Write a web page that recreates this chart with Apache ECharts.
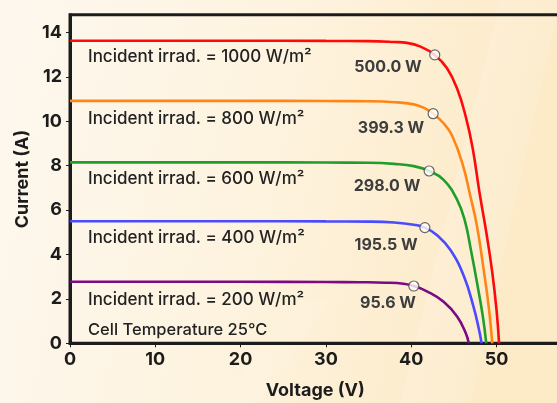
<!DOCTYPE html>
<html>
<head>
<meta charset="utf-8">
<script src="https://cdn.jsdelivr.net/npm/echarts@6/dist/echarts.min.js"></script>
<style>
html,body{margin:0;padding:0;background:#fdf6e8;}
#c{width:557px;height:403px;}
</style>
</head>
<body>
<div id="c"></div>
<script>
// ---- Data ----
const xTicks = [0, 10, 20, 30, 40, 50];
const yTicks = [0, 2, 4, 6, 8, 10, 12, 14];
const seriesNames = ['1000 W/m²', '800 W/m²', '600 W/m²', '400 W/m²', '200 W/m²'];
const curve1000 = [[0,13.63],[10,13.63],[20,13.63],[30,13.62],[35,13.61],[38,13.57],[39.5,13.53],[41.1,13.36],[42.76,12.99],[44.2,12.39],[45.4,11.45],[46.4,10.2],[47.2,8.8],[48.0,6.8],[48.8,5.0],[49.5,3.2],[50.0,1.5],[50.3,0]];
const curve800 = [[0,10.92],[10,10.92],[20,10.92],[30,10.91],[35,10.9],[38,10.86],[40.3,10.76],[41.5,10.6],[42.57,10.34],[43.8,9.91],[44.8,9.35],[46.0,8.1],[46.95,6.6],[47.7,5.3],[48.5,3.3],[49.1,1.6],[49.5,0]];
const curve600 = [[0,8.15],[10,8.15],[20,8.15],[30,8.14],[35,8.13],[38,8.08],[40.3,7.98],[42.1,7.76],[43.8,7.36],[45.4,6.45],[46.3,5.5],[47.0,4.2],[47.8,2.55],[48.4,1.2],[48.8,0]];
const curve400 = [[0,5.5],[10,5.5],[20,5.5],[30,5.49],[35,5.48],[38,5.44],[40.3,5.34],[41.6,5.21],[43.0,4.88],[44.6,4.2],[46.2,3.0],[47.3,1.65],[47.9,0.7],[48.25,0]];
const curve200 = [[0,2.77],[10,2.77],[20,2.77],[30,2.76],[34,2.75],[37,2.73],[39.1,2.68],[40.3,2.58],[41.9,2.33],[43.8,1.87],[45.4,1.2],[46.4,0.45],[46.75,0]];
const mppPoints = [[42.76,12.99],[42.57,10.34],[42.1,7.76],[41.6,5.21],[40.3,2.58]];
const irradLabels = ['Incident irrad. = 1000 W/m²','Incident irrad. = 800 W/m²','Incident irrad. = 600 W/m²','Incident irrad. = 400 W/m²','Incident irrad. = 200 W/m²'];
const powerLabels = ['500.0 W','399.3 W','298.0 W','195.5 W','95.6 W'];
const tempLabel = 'Cell Temperature 25°C';

// ---- Styling ----
const curves = [curve1000, curve800, curve600, curve400, curve200];
const colors = ['#ff0a0a', '#ff8514', '#1f9e2c', '#4a4aff', '#7a0a86'];
const FONT = 'Inter, "Noto Sans", sans-serif';
const INK = '#1c1c1c';

const chart = echarts.init(document.getElementById('c'), null, {renderer: 'canvas'});

const series = curves.map((d, i) => ({
  name: seriesNames[i],
  type: 'line',
  data: d,
  smooth: 0.45,
  showSymbol: false,
  lineStyle: {color: colors[i], width: 2.6},
  z: 3
}));
series.push({
  type: 'scatter',
  data: mppPoints,
  symbol: 'circle',
  symbolSize: 10,
  itemStyle: {color: '#ffffff', borderColor: '#444', borderWidth: 1.2},
  z: 5
});

const irradY = [57, 119, 179, 238, 300];
const powerPos = [[388,67],[391,128],[387,186],[386,245],[388,303]];
const graphics = [
  {type:'rect', z:-10, silent:true, shape:{x:0,y:0,width:557,height:403},
   style:{fill:new echarts.graphic.LinearGradient(0,0,1,0.3,[
     {offset:0,color:'#fdf8ef'},{offset:0.5,color:'#fdf3df'},{offset:1,color:'#fdeac6'}])}},
  {type:'polygon', z:-9, silent:true, shape:{points:[[500,0],[560,0],[470,403],[400,403]]},
   style:{fill:'rgba(255,255,255,0.14)'}},
  {type:'polygon', z:-9, silent:true, shape:{points:[[300,300],[330,300],[260,403],[220,403]]},
   style:{fill:'rgba(255,255,255,0.1)'}}
];
irradLabels.forEach((t, i) => graphics.push({
  type:'text', x: 88, y: irradY[i], z: 10,
  style:{text:t, font:'500 17px ' + FONT, fill:'#222', verticalAlign:'middle'}
}));
graphics.push({type:'text', x: 88, y: 330, z:10,
  style:{text:tempLabel, font:'500 16.5px ' + FONT, fill:'#222', verticalAlign:'middle'}});
powerLabels.forEach((t, i) => graphics.push({
  type:'text', x: powerPos[i][0], y: powerPos[i][1], z: 10,
  style:{text:t, font:'700 16px ' + FONT, fill:'#3d3d3d', align:'center', verticalAlign:'middle'}
}));

chart.setOption({
  animation: false,
  backgroundColor: 'transparent',
  grid: {left: 70, top: 14.7, width: 490.5, height: 328.6, show: true,
         containLabel: false, outerBoundsMode: 'none',
         borderColor: INK, borderWidth: 3, backgroundColor: 'transparent'},
  xAxis: {
    type: 'value', min: 0, max: 57.5, interval: 10,
    name: 'Voltage (V)', nameLocation: 'middle', nameGap: 38,
    nameTextStyle: {fontFamily: FONT, fontWeight: 700, fontSize: 18, color: INK},
    axisLine: {show: true, lineStyle: {color: INK, width: 3}},
    axisTick: {show: true, length: 4, lineStyle: {color: INK, width: 1}, customValues: xTicks},
    axisLabel: {fontFamily: FONT, fontWeight: 700, fontSize: 18, color: INK, margin: 7,
                customValues: xTicks},
    splitLine: {show: false}
  },
  yAxis: {
    type: 'value', min: 0, max: 14.8, interval: 2,
    name: 'Current (A)', nameLocation: 'middle', nameGap: 34,
    nameTextStyle: {fontFamily: FONT, fontWeight: 700, fontSize: 18, color: INK},
    axisLine: {show: true, lineStyle: {color: INK, width: 3}},
    axisTick: {show: true, length: 4, lineStyle: {color: INK, width: 1}, customValues: yTicks},
    axisLabel: {fontFamily: FONT, fontWeight: 700, fontSize: 18, color: INK, margin: 8,
                customValues: yTicks},
    splitLine: {show: false}
  },
  graphic: graphics,
  series: series
});
</script>
</body>
</html>
